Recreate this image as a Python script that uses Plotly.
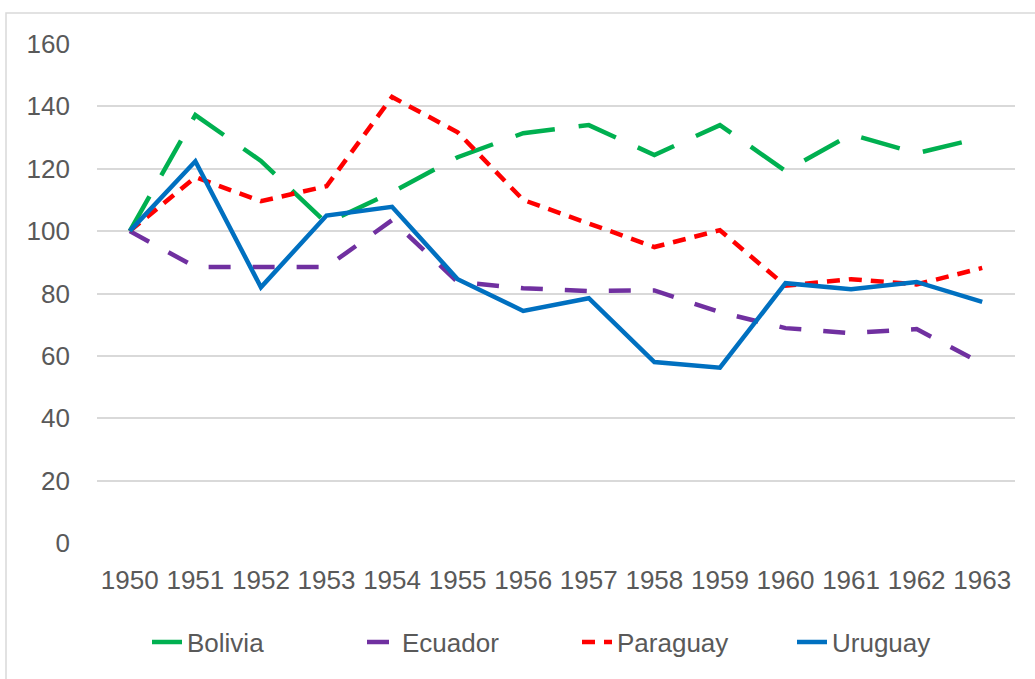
import plotly.graph_objects as go

years = [str(y) for y in range(1950, 1964)]
bolivia = [100, 137.2, 122.5, 102.6, 112.5, 123.7, 131.4, 134.0, 124.4, 134.0, 119.3, 131.0, 125.0, 130.0]
ecuador = [100, 88.5, 88.5, 88.5, 103.5, 83.7, 81.7, 80.8, 81.0, 74.0, 68.9, 67.3, 68.6, 57.5]
paraguay = [100, 117.3, 109.6, 114.4, 143.0, 131.7, 110.0, 102.6, 94.9, 100.3, 82.5, 84.6, 82.9, 88.2]
uruguay = [100, 122.4, 82.0, 105.0, 107.8, 84.6, 74.4, 78.5, 58.0, 56.2, 83.3, 81.4, 83.7, 77.3]

series = [
    ("Bolivia", bolivia, "#00B050", "40px,24px"),
    ("Ecuador", ecuador, "#7030A0", "22px,22px"),
    ("Paraguay", paraguay, "#FF0000", "13px,9px"),
    ("Uruguay", uruguay, "#0070C0", "solid"),
]

fig = go.Figure()
for name, vals, color, dash in series:
    fig.add_trace(go.Scatter(
        x=years, y=vals, name=name, mode="lines",
        line=dict(color=color, width=4.5, dash=dash),
    ))

font_family = "Liberation Sans, Arial, sans-serif"
W, H = 1035, 679
L, R, T, B = 97, 20, 44, 136
pw, ph = W - L - R, H - T - B

fig.update_layout(
    width=W, height=H,
    margin=dict(l=L, r=R, t=T, b=B, pad=0),
    paper_bgcolor="white", plot_bgcolor="white",
    font=dict(family=font_family, size=26, color="#595959"),
    showlegend=True,
    legend=dict(
        orientation="h", x=(147 - L) / pw, xanchor="left",
        y=(T + ph - 642) / ph, yanchor="middle",
        font=dict(size=26, color="#595959"),
        entrywidthmode="pixels", entrywidth=170,
    ),
    xaxis=dict(
        type="category", range=[-0.5, 13.5],
        showgrid=False, showline=False, zeroline=False,
        ticks="", ticklabelstandoff=19,
        tickfont=dict(size=26, color="#595959"),
    ),
    yaxis=dict(
        range=[0, 160], dtick=20, tick0=0,
        showgrid=True, gridcolor="#D9D9D9", gridwidth=1.5,
        zeroline=False, showline=False, ticks="",
        ticklabelstandoff=26,
        tickfont=dict(size=26, color="#595959"),
    ),
    shapes=[dict(
        type="rect", xref="paper", yref="paper",
        x0=(6 - L) / pw, x1=(W + 10 - L) / pw,
        y0=(T + ph - (H + 10)) / ph, y1=(T + ph - 13) / ph,
        line=dict(color="#D9D9D9", width=1.5), fillcolor="rgba(0,0,0,0)",
        layer="below",
    )],
)

fig.write_html(
    "out.html",
    config={"displayModeBar": False},
    post_script="document.body.style.margin='0';document.body.style.overflow='hidden';",
)
